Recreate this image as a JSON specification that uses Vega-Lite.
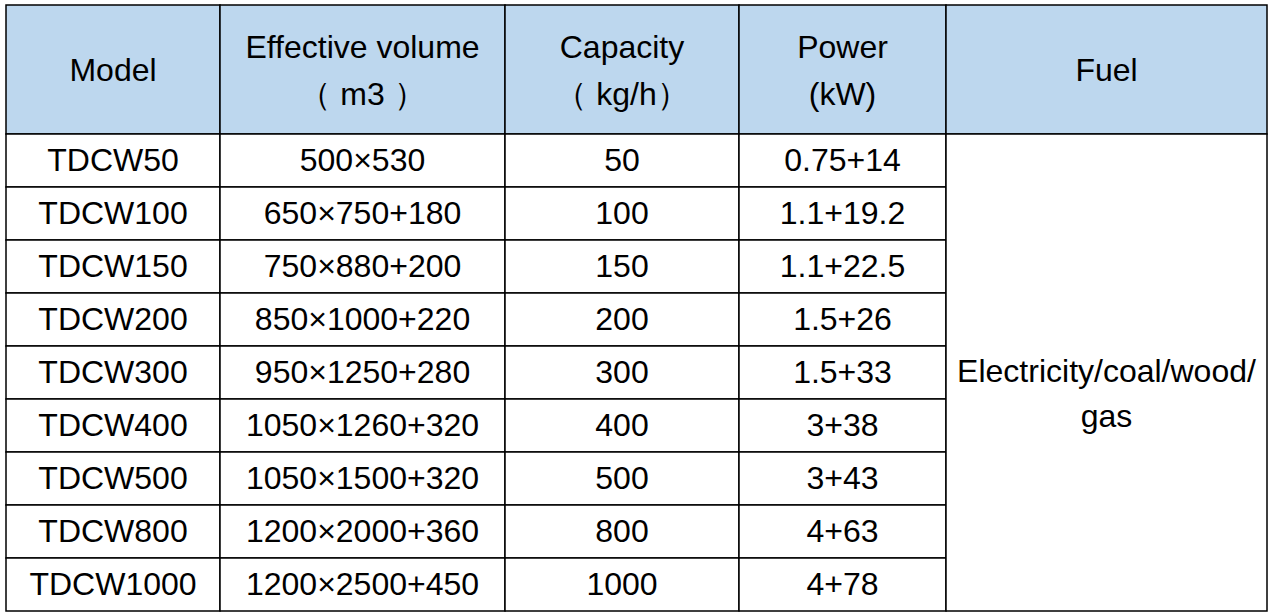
{
  "$schema": "https://vega.github.io/schema/vega-lite/v6.json",
  "background": "white",
  "padding": {"left": 5, "top": 4, "right": 0, "bottom": 0},
  "autosize": "pad",
  "columns": 5,
  "spacing": 0,
  "bounds": "flush",
  "config": {
    "view": {"stroke": null},
    "text": {"font": "Liberation Sans", "fontSize": 32, "color": "black"},
    "concat": {"spacing": 0}
  },
  "datasets": {
    "header": [
      {"Column": "Model", "Label": "Model"},
      {"Column": "Volume", "Label": "Effective volume\n（ m3 ）"},
      {"Column": "Capacity", "Label": "Capacity\n（ kg/h）"},
      {"Column": "Power", "Label": "Power\n(kW)"},
      {"Column": "Fuel", "Label": "Fuel"}
    ],
    "rows": [
      {"Model": "TDCW50", "Volume": "500×530", "Capacity": "50", "Power": "0.75+14"},
      {"Model": "TDCW100", "Volume": "650×750+180", "Capacity": "100", "Power": "1.1+19.2"},
      {"Model": "TDCW150", "Volume": "750×880+200", "Capacity": "150", "Power": "1.1+22.5"},
      {"Model": "TDCW200", "Volume": "850×1000+220", "Capacity": "200", "Power": "1.5+26"},
      {"Model": "TDCW300", "Volume": "950×1250+280", "Capacity": "300", "Power": "1.5+33"},
      {"Model": "TDCW400", "Volume": "1050×1260+320", "Capacity": "400", "Power": "3+38"},
      {"Model": "TDCW500", "Volume": "1050×1500+320", "Capacity": "500", "Power": "3+43"},
      {"Model": "TDCW800", "Volume": "1200×2000+360", "Capacity": "800", "Power": "4+63"},
      {"Model": "TDCW1000", "Volume": "1200×2500+450", "Capacity": "1000", "Power": "4+78"}
    ],
    "fuel": [
      {"Fuel": "Electricity/coal/wood/\ngas"}
    ]
  },
  "concat": [
    {
      "width": 214, "height": 129,
      "data": {"name": "header"},
      "transform": [{"filter": "datum.Column == 'Model'"}],
      "layer": [
        {"mark": {"type": "rect", "fill": "#BDD7EE", "stroke": "black", "strokeWidth": 1.5}, "encoding": {}},
        {"mark": {"type": "text", "dy": 1}, "encoding": {"text": {"field": "Label"}}}
      ]
    },
    {
      "width": 285, "height": 129,
      "data": {"name": "header"},
      "transform": [{"filter": "datum.Column == 'Volume'"}],
      "layer": [
        {"mark": {"type": "rect", "fill": "#BDD7EE", "stroke": "black", "strokeWidth": 1.5}, "encoding": {}},
        {"mark": {"type": "text", "lineBreak": "\n", "lineHeight": 47, "dy": -22}, "encoding": {"text": {"field": "Label"}}}
      ]
    },
    {
      "width": 234, "height": 129,
      "data": {"name": "header"},
      "transform": [{"filter": "datum.Column == 'Capacity'"}],
      "layer": [
        {"mark": {"type": "rect", "fill": "#BDD7EE", "stroke": "black", "strokeWidth": 1.5}, "encoding": {}},
        {"mark": {"type": "text", "lineBreak": "\n", "lineHeight": 47, "dy": -22}, "encoding": {"text": {"field": "Label"}}}
      ]
    },
    {
      "width": 207, "height": 129,
      "data": {"name": "header"},
      "transform": [{"filter": "datum.Column == 'Power'"}],
      "layer": [
        {"mark": {"type": "rect", "fill": "#BDD7EE", "stroke": "black", "strokeWidth": 1.5}, "encoding": {}},
        {"mark": {"type": "text", "lineBreak": "\n", "lineHeight": 47, "dy": -22}, "encoding": {"text": {"field": "Label"}}}
      ]
    },
    {
      "width": 321, "height": 129,
      "data": {"name": "header"},
      "transform": [{"filter": "datum.Column == 'Fuel'"}],
      "layer": [
        {"mark": {"type": "rect", "fill": "#BDD7EE", "stroke": "black", "strokeWidth": 1.5}, "encoding": {}},
        {"mark": {"type": "text", "dy": 1}, "encoding": {"text": {"field": "Label"}}}
      ]
    },
    {
      "width": 214, "height": 477,
      "data": {"name": "rows"},
      "layer": [
        {"mark": {"type": "rect", "fill": "white", "stroke": "black", "strokeWidth": 1.5},
         "encoding": {"y": {"field": "Model", "type": "nominal", "sort": null, "axis": null, "scale": {"paddingInner": 0, "paddingOuter": 0}}}},
        {"mark": {"type": "text"},
         "encoding": {"y": {"field": "Model", "type": "nominal", "sort": null, "axis": null}, "text": {"field": "Model"}}}
      ]
    },
    {
      "width": 285, "height": 477,
      "data": {"name": "rows"},
      "layer": [
        {"mark": {"type": "rect", "fill": "white", "stroke": "black", "strokeWidth": 1.5},
         "encoding": {"y": {"field": "Model", "type": "nominal", "sort": null, "axis": null, "scale": {"paddingInner": 0, "paddingOuter": 0}}}},
        {"mark": {"type": "text"},
         "encoding": {"y": {"field": "Model", "type": "nominal", "sort": null, "axis": null}, "text": {"field": "Volume"}}}
      ]
    },
    {
      "width": 234, "height": 477,
      "data": {"name": "rows"},
      "layer": [
        {"mark": {"type": "rect", "fill": "white", "stroke": "black", "strokeWidth": 1.5},
         "encoding": {"y": {"field": "Model", "type": "nominal", "sort": null, "axis": null, "scale": {"paddingInner": 0, "paddingOuter": 0}}}},
        {"mark": {"type": "text"},
         "encoding": {"y": {"field": "Model", "type": "nominal", "sort": null, "axis": null}, "text": {"field": "Capacity"}}}
      ]
    },
    {
      "width": 207, "height": 477,
      "data": {"name": "rows"},
      "layer": [
        {"mark": {"type": "rect", "fill": "white", "stroke": "black", "strokeWidth": 1.5},
         "encoding": {"y": {"field": "Model", "type": "nominal", "sort": null, "axis": null, "scale": {"paddingInner": 0, "paddingOuter": 0}}}},
        {"mark": {"type": "text"},
         "encoding": {"y": {"field": "Model", "type": "nominal", "sort": null, "axis": null}, "text": {"field": "Power"}}}
      ]
    },
    {
      "width": 321, "height": 477,
      "data": {"name": "fuel"},
      "layer": [
        {"mark": {"type": "rect", "fill": "white", "stroke": "black", "strokeWidth": 1.5}, "encoding": {}},
        {"mark": {"type": "text", "lineBreak": "\n", "lineHeight": 45, "dy": -1}, "encoding": {"text": {"field": "Fuel"}}}
      ]
    }
  ]
}
